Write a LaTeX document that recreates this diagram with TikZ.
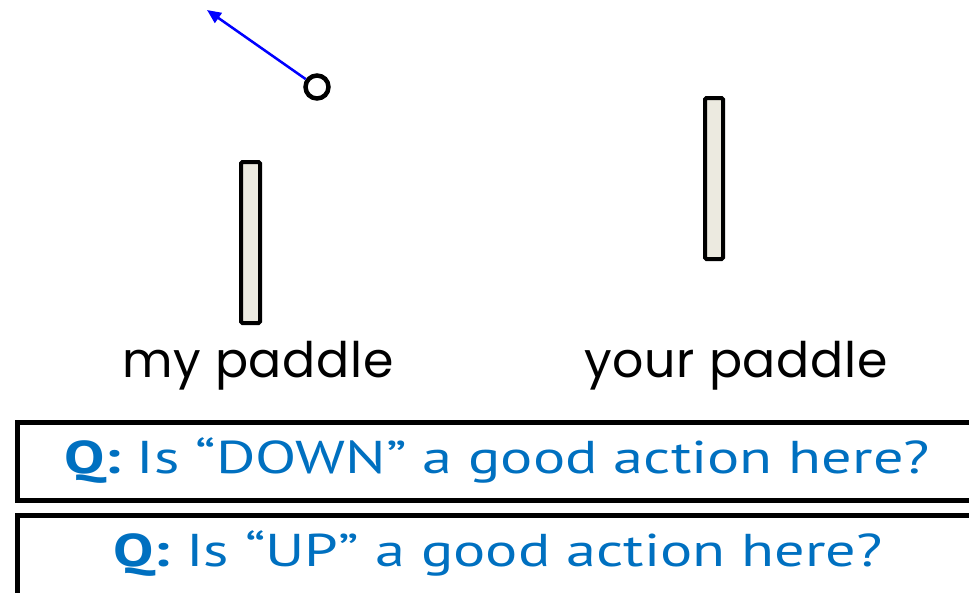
\documentclass[tikz,border=0pt]{standalone}
\usepackage{fontspec}
\setmainfont{Poppins}
\newfontfamily\lblfont[LetterSpace=1.5]{Poppins}
\newfontfamily\qfont{PT Sans}
\usetikzlibrary{arrows.meta}
\definecolor{paddlefill}{HTML}{ECEAE0}
\definecolor{qblue}{HTML}{0070C0}
\begin{document}
\begin{tikzpicture}[x=1pt,y=-1pt,
  paddle/.style={draw=black,line width=4pt,fill=paddlefill,rounded corners=1.5pt},
  qbox/.style={draw=black,line width=5pt},
  lbl/.style={font=\lblfont\fontsize{49}{49}\selectfont,inner sep=0pt,anchor=base},
  qtext/.style={text=qblue,font=\qfont\fontsize{46}{46}\selectfont,inner sep=0pt,anchor=base}]
\useasboundingbox (0,0) rectangle (969,592);
\node[circle,draw=black,line width=4.5pt,minimum size=23pt,inner sep=0pt] (ball) at (317,87) {};
\coordinate (tip) at (207,10);
\draw[blue,line width=2.5pt,-{Triangle[length=14pt,width=12pt]}] (ball) -- (tip);
\draw[paddle] (241,162) rectangle (260,323);
\draw[paddle] (705,98) rectangle (723,259);
\node[lbl] (my) at (258,377) {my paddle};
\node[lbl] (your) at (736,377) {your paddle};
\draw[qbox] (17,422) rectangle (980,500);
\draw[qbox] (17,515) rectangle (980,600);
\node[qtext] (q1) at (497,473) {\scalebox{1.31}[1]{\textbf{Q:} Is “DOWN” a good action here?}};
\node[qtext] (q2) at (498,566) {\scalebox{1.31}[1]{\textbf{Q:} Is “UP” a good action here?}};
\end{tikzpicture}
\end{document}
